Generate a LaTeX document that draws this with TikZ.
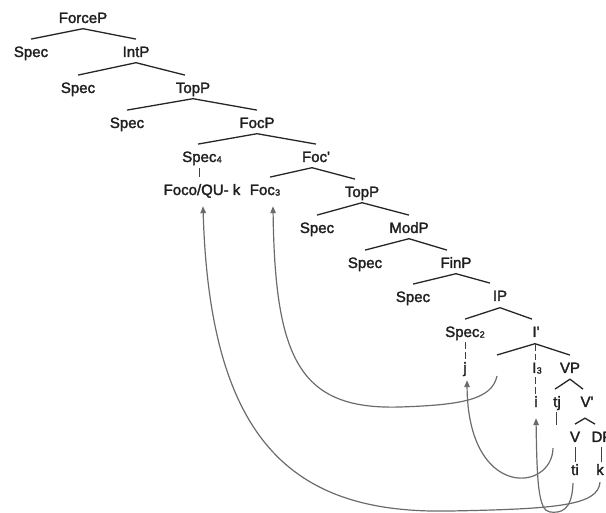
\documentclass[tikz,border=0pt]{standalone}
\usepackage{fontspec}
\setmainfont{Liberation Sans}[FakeBold=2]
\newfontfamily\heavy{Liberation Sans}[FakeBold=2]
\usetikzlibrary{arrows.meta}
\newcommand{\sbs}[1]{\kern0.3pt\raisebox{-0.6pt}{\fontsize{9}{9}\selectfont #1}}
\begin{document}
\begin{tikzpicture}[x=1pt,y=-1pt,
  lbl/.style={anchor=base,inner sep=0pt,text height=11pt,text depth=3pt,
    font=\heavy\fontsize{15}{18}\selectfont,text=black!88},
  br/.style={line width=1.3pt,black!85},
  bar/.style={line width=1pt,black!75},
  dbar/.style={line width=1pt,black!75,dash pattern=on 7pt off 3pt},
  mv/.style={line width=1.2pt,black!58,-{Triangle[length=7pt,width=5.5pt]}}]
\useasboundingbox (0,0) rectangle (606,513);
\clip (0,0) rectangle (606,513);
% labels
\node[lbl] (forceP) at (83,23) {ForceP};
\node[lbl] (spec1) at (31,57) {Spec};
\node[lbl] (intP) at (136,57) {IntP};
\node[lbl] (spec2) at (78,93) {Spec};
\node[lbl] (topP1) at (193,93) {TopP};
\node[lbl] (spec3) at (127,128) {Spec};
\node[lbl] (focP) at (257,128) {FocP};
\node[lbl] (spec4) at (202,162) {Spec\sbs{4}};
\node[lbl] (focbar) at (316,162) {Foc\textquotesingle};
\node[lbl] (foco) at (202,195) {Foco/QU- k};
\node[lbl] (foc3) at (265,195) {Foc\sbs{3}};
\node[lbl] (topP2) at (362,197) {TopP};
\node[lbl] (spec5) at (317,233) {Spec};
\node[lbl] (modP) at (409,233) {ModP};
\node[lbl] (spec6) at (365,268) {Spec};
\node[lbl] (finP) at (456,268) {FinP};
\node[lbl] (spec7) at (413,302) {Spec};
\node[lbl] (iP) at (500,301) {IP};
\node[lbl] (specii) at (465,337) {Spec\sbs{2}};
\node[lbl] (ibar) at (536,337) {I\textquotesingle};
\node[lbl] (j) at (465,373) {j};
\coordinate (gap) at (497,355);
\node[lbl] (i3) at (537,373) {I\sbs{3}};
\node[lbl] (vP) at (570,373) {VP};
\node[lbl] (i) at (536,407) {i};
\node[lbl] (tj) at (557,407) {tj};
\node[lbl] (vbar) at (587,407) {V\textquotesingle};
\node[lbl] (v) at (575,442) {V};
\node[lbl] (dP) at (602,442) {DP};
\node[lbl] (ti) at (575,475) {ti};
\node[lbl] (k) at (600,475) {k};
% branches
\draw[br] ([yshift=6.7pt]spec1.north) -- ([yshift=-2.5pt]forceP.south) -- ([yshift=6.7pt]intP.north);
\draw[br] ([yshift=6.7pt]spec2.north) -- ([yshift=-2.5pt]intP.south) -- ([xshift=-8pt,yshift=6.7pt]topP1.north);
\draw[br] ([yshift=6.7pt]spec3.north) -- ([yshift=-2.5pt]topP1.south) -- ([yshift=6.7pt]focP.north);
\draw[br] ([xshift=-4pt,yshift=6.7pt]spec4.north) -- ([yshift=-2.5pt]focP.south) -- ([yshift=6.7pt]focbar.north);
\draw[br] ([xshift=5pt,yshift=6.7pt]foc3.north) -- ([xshift=-4pt,yshift=-2.5pt]focbar.south) -- ([xshift=-7pt,yshift=6.7pt]topP2.north);
\draw[br] ([yshift=6.7pt]spec5.north) -- ([yshift=-2.5pt]topP2.south) -- ([yshift=6.7pt]modP.north);
\draw[br] ([yshift=6.7pt]spec6.north) -- ([yshift=-2.5pt]modP.south) -- ([xshift=-9pt,yshift=6.7pt]finP.north);
\draw[br] ([yshift=6.7pt]spec7.north) -- ([yshift=-2.5pt]finP.south) -- ([xshift=-10pt,yshift=6.7pt]iP.north);
\draw[br] ([yshift=6.7pt]specii.north) -- ([yshift=-3.5pt]iP.south) -- ([xshift=-4pt,yshift=6.7pt]ibar.north);
\draw[br] (gap) -- ([xshift=-1pt,yshift=-3.5pt]ibar.south) -- ([yshift=6.7pt]vP.north);
\draw[br] ([xshift=-2pt,yshift=6.7pt]tj.north) -- ([yshift=-3pt]vP.south) -- ([xshift=-4pt,yshift=6.7pt]vbar.north);
\draw[br] ([yshift=6.7pt]v.north) -- ([xshift=-2pt,yshift=-8pt]vbar.south) -- ([xshift=-7pt,yshift=6.7pt]dP.north);
% vertical bars
\draw[bar] ([xshift=-3pt,yshift=-3pt]spec4.south) -- ([xshift=-3pt,yshift=7pt]foco.north);
\draw[dbar] ([yshift=-2pt]specii.south) -- ([yshift=2pt]j.north);
\draw[dbar] ([xshift=-1pt,yshift=-3.5pt]ibar.south) -- ([xshift=-2pt,yshift=2pt]i3.north);
\draw[dbar] ([xshift=-2pt,yshift=-1pt]i3.south) -- ([xshift=-1pt,yshift=1pt]i.north);
\draw[bar] ([xshift=-1pt,yshift=-2pt]tj.south) -- ([xshift=-1pt,yshift=-15pt]tj.south);
\draw[bar] ([yshift=-2pt]v.south) -- ([yshift=2pt]ti.north);
\draw[bar] ([xshift=-1pt,yshift=-2pt]dP.south) -- ([xshift=1pt,yshift=2pt]k.north);
% movement arrows
\draw[mv] ([yshift=-4pt]k.south) .. controls (598,505) and (560,509) .. (450,511)
  .. controls (300,514) and (210,450) .. ([xshift=1pt,yshift=-8pt]foco.south);
\draw[mv] ([xshift=-2pt,yshift=-5pt]ti.south) .. controls (572,512) and (560,513) .. (550,512)
  .. controls (538,511) and (537,480) .. ([xshift=0pt,yshift=-8pt]i.south);
\draw[mv] ([xshift=-4pt,yshift=-38pt]tj.south) .. controls (552,492) and (468,500) .. ([xshift=2pt,yshift=-4pt]j.south);
\draw[mv] ([yshift=-21pt]gap) .. controls (492,400) and (460,405) .. (400,407)
  .. controls (300,410) and (275,360) .. ([xshift=8pt,yshift=-8pt]foc3.south);
\end{tikzpicture}
\end{document}
